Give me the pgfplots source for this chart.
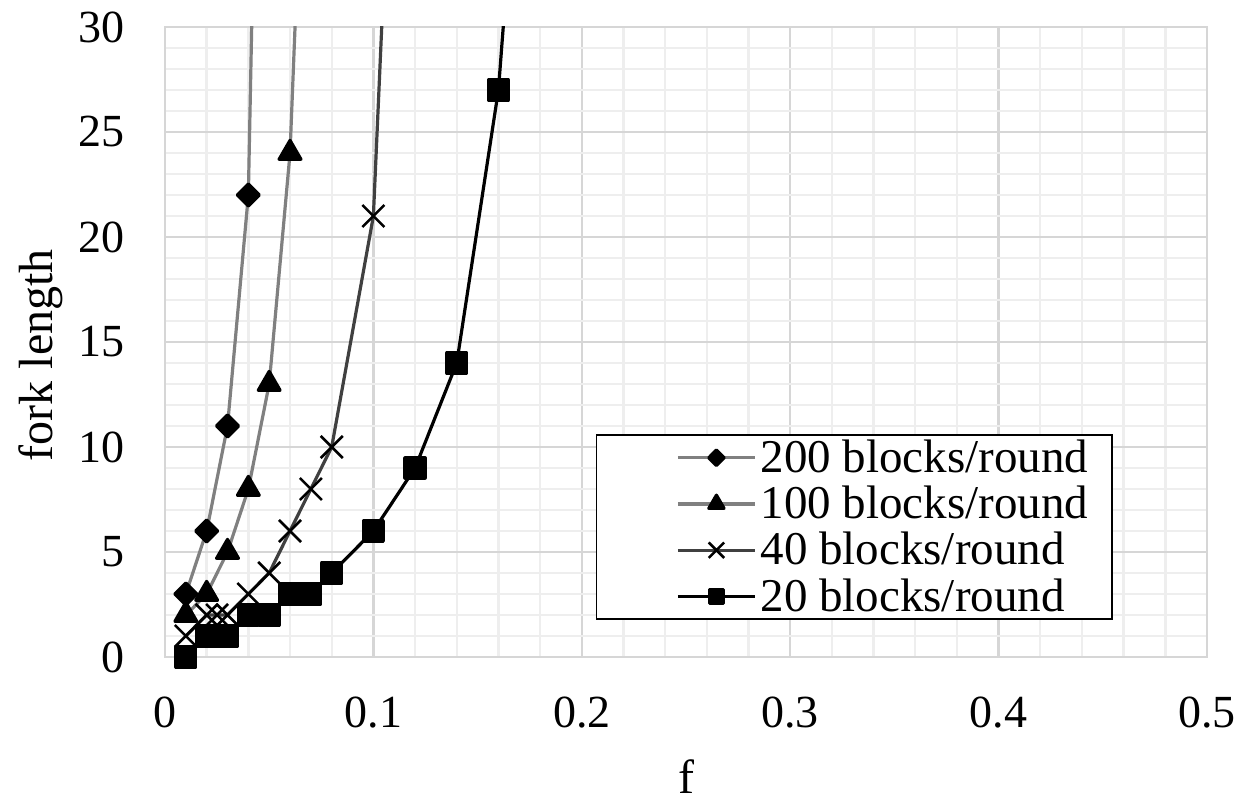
\documentclass[border=0pt]{standalone}
\usepackage{fontspec}
\setmainfont{Liberation Serif}
\usepackage{pgfplots}
\pgfplotsset{compat=1.18}
\definecolor{gridmaj}{RGB}{214,214,214}
\definecolor{gridmin}{RGB}{238,238,238}
\definecolor{midgray}{RGB}{128,128,128}
\definecolor{dkgray}{RGB}{64,64,64}

\begin{document}
\begin{tikzpicture}
\begin{axis}[
  scale only axis, width=521pt, height=315pt,
  xmin=0, xmax=0.5, ymin=0, ymax=30,
  xtick={0,0.1,0.2,0.3,0.4,0.5},
  ytick={0,5,10,15,20,25,30},
  minor x tick num=4, minor y tick num=4,
  grid=both,
  major grid style={gridmaj, line width=1.2pt},
  minor grid style={gridmin, line width=1.2pt},
  axis line style={gridmaj, line width=1.2pt},
  major tick length=0pt, minor tick length=0pt,
  clip mode=individual,
  /pgf/number format/assume math mode=true,
  ticklabel style={font=\fontsize{23}{27}\selectfont},
  xticklabel style={anchor=north, inner sep=0pt, yshift=-20pt},
  yticklabel style={anchor=east, inner sep=0pt, xshift=-20pt},
  xlabel={f}, ylabel={fork length},
  label style={font=\fontsize{24}{28}\selectfont, inner sep=0pt},
  xlabel style={at={(axis description cs:0.5,-0.162)}, anchor=north},
  ylabel style={at={(axis description cs:-0.119,0.479)}, anchor=center},
  legend style={at={(rel axis cs:0.9098,0.0587)}, anchor=south east,
    draw=black, line width=0.8pt, fill=white,
    font=\fontsize{23.5}{27}\selectfont,
    inner xsep=10pt, inner ysep=0.5pt, row sep=1.3pt},
  legend cell align=left,
  legend image code/.code={
    \path (-30pt,0pt);
    \draw[#1, mark indices={2}, /tikz/every mark/.append style={scale=0.7}]
      plot coordinates {(0pt,0pt) (19.25pt,0pt) (38.5pt,0pt)};
  },
  every axis plot/.append style={line width=1.6pt, line join=round},
]
\coordinate (O) at (rel axis cs:0,0);

\addplot[midgray, mark=diamond*, mark size=5.5pt,
  mark options={black, fill=black, xscale=1.333}, mark indices={1,2,3,4}]
  coordinates {(0.01,3) (0.02,6) (0.03,11) (0.04,22) (0.05,72)};
\addlegendentry{200 blocks/round}

\addplot[midgray, mark=triangle*, mark size=6.3pt,
  mark options={black, fill=black}, mark indices={1,2,3,4,5,6}]
  coordinates {(0.01,2) (0.02,3) (0.03,5) (0.04,8) (0.05,13) (0.06,24) (0.07,49)};
\addlegendentry{100 blocks/round}

\addplot[dkgray, mark=x, mark size=7.8pt,
  mark options={black, line width=1.3pt}, mark indices={1,2,3,4,5,6,7,8,9,10}]
  coordinates {(0.01,1) (0.02,2) (0.025,2) (0.03,2) (0.04,3) (0.05,4) (0.06,6)
    (0.07,8) (0.08,10) (0.1,21) (0.12,66)};
\addlegendentry{40 blocks/round}

\addplot[black, mark=square*, mark size=5pt,
  mark options={black, fill=black}, mark indices={1,2,3,4,5,6,7,8,9,10,11,12}]
  coordinates {(0.01,0) (0.02,1) (0.03,1) (0.04,2) (0.05,2) (0.06,3) (0.07,3)
    (0.08,4) (0.1,6) (0.12,9) (0.14,14) (0.16,27) (0.18,53)};
\addlegendentry{20 blocks/round}
\end{axis}
\pgfresetboundingbox
\path[use as bounding box] (O) ++(-82.5pt,-72pt) rectangle ++(619.5pt,400.5pt);
\end{tikzpicture}
\end{document}
